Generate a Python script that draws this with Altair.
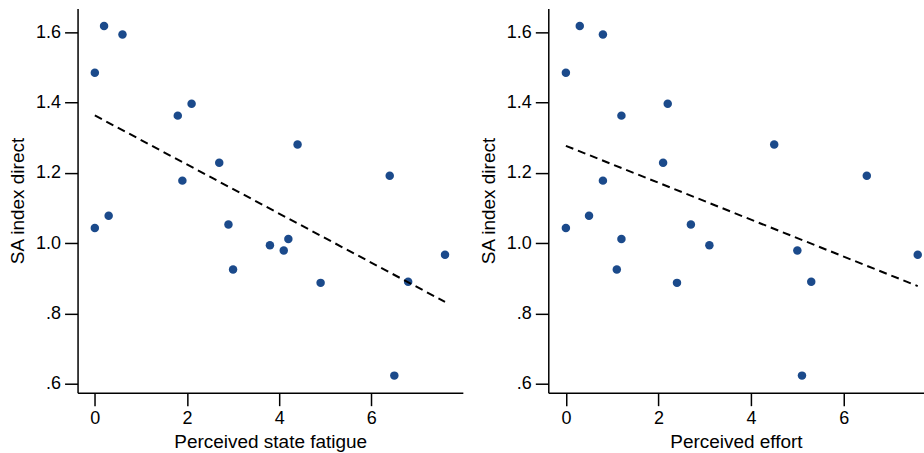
import altair as alt
import pandas as pd

# Values
sa_index = [1.618, 1.594, 1.485, 1.363, 1.397, 1.281, 1.229, 1.178, 1.192, 1.078,
            1.043, 1.053, 0.994, 1.012, 0.979, 0.925, 0.887, 0.890, 0.967, 0.623]
fatigue = [0.2, 0.6, 0.0, 1.8, 2.1, 4.4, 2.7, 1.9, 6.4, 0.3,
           0.0, 2.9, 3.8, 4.2, 4.1, 3.0, 4.9, 6.8, 7.6, 6.5]
effort = [0.3, 0.8, 0.0, 1.2, 2.2, 4.5, 2.1, 0.8, 6.5, 0.5,
          0.0, 2.7, 3.1, 1.2, 5.0, 1.1, 2.4, 5.3, 7.6, 5.1]

x_ticks = [0, 2, 4, 6]
y_ticks = [0.6, 0.8, 1.0, 1.2, 1.4, 1.6]
y_title = "SA index direct"
x_titles = ["Perceived state fatigue", "Perceived effort"]

df = pd.DataFrame({"sa": sa_index, "fatigue": fatigue, "effort": effort})

DOT = "#1b4a8b"
FONT = "Liberation Sans"


def panel(xcol, xtitle, xdomain, width):
    base = alt.Chart(df)
    x = alt.X(f"{xcol}:Q", title=xtitle,
              scale=alt.Scale(domain=xdomain, nice=False, zero=False),
              axis=alt.Axis(values=x_ticks, format="d"))
    y = alt.Y("sa:Q", title=y_title,
              scale=alt.Scale(domain=[0.5744, 1.6682], nice=False, zero=False),
              axis=alt.Axis(values=y_ticks, titlePadding=8,
                            labelExpr="datum.value >= 1 ? format(datum.value, '.1f') : slice(format(datum.value, '.1f'), 1)"))
    pts = base.mark_circle(size=72, color=DOT, opacity=1).encode(x=x, y=y)
    line = base.transform_regression(xcol, "sa").mark_line(
        color="black", strokeDash=[8, 5], strokeWidth=2
    ).encode(x=x, y=y)
    return alt.layer(pts, line).properties(width=width, height=385)


left = panel("fatigue", x_titles[0], [-0.375, 7.987], 386)
right = panel("effort", x_titles[1], [-0.38, 7.727], 376)

chart = alt.hconcat(left, right, spacing=15.6).properties(
    padding={"left": 7.7, "top": 8, "right": 0, "bottom": 0}
).configure_view(stroke=None).configure_axis(
    grid=False,
    domainColor="black", domainWidth=1.5,
    tickColor="black", tickWidth=1.5, tickSize=13,
    labelFont=FONT, labelFontSize=18, labelColor="black", labelPadding=4,
    titleFont=FONT, titleFontSize=19, titleColor="black", titleFontWeight="normal",
    titlePadding=5,
).configure_axisY(labelAngle=0)

chart.save("out.html", embed_options={"renderer": "svg", "actions": False})
